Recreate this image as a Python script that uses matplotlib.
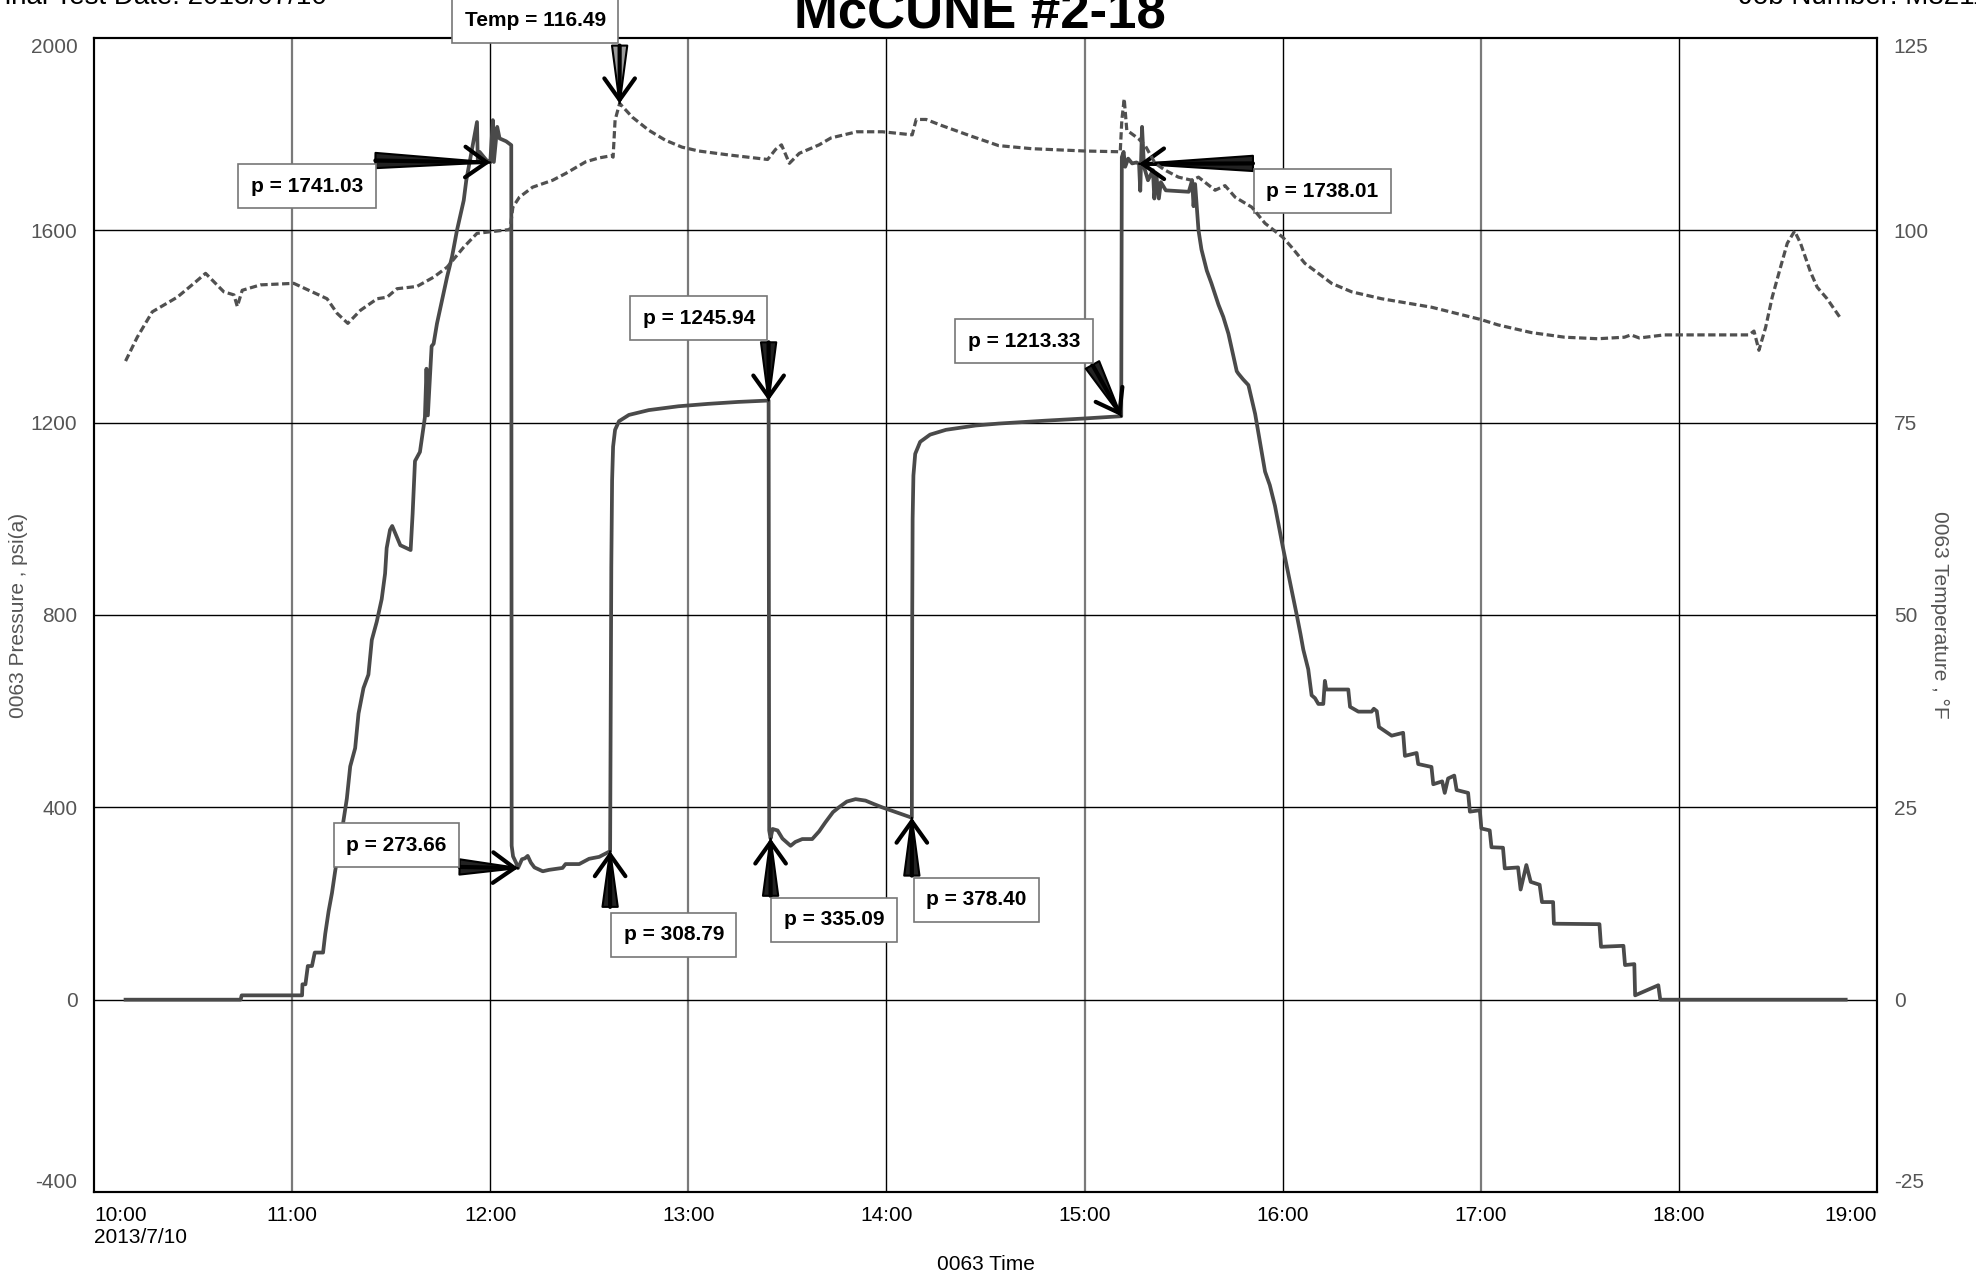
import matplotlib
matplotlib.use("Agg")
import matplotlib.pyplot as plt

plt.rcParams['font.family'] = ['Liberation Sans', 'DejaVu Sans']

# --- data (time in decimal hours of 2013/7/10) ---
pressure_hours = [
    10.159, 10.740, 10.745, 11.050, 11.052, 11.067, 11.079, 11.100, 11.114, 11.156,
    11.167, 11.184, 11.201, 11.218, 11.235, 11.260, 11.276, 11.293, 11.318, 11.335,
    11.360, 11.385, 11.402, 11.427, 11.452, 11.469, 11.477, 11.494, 11.505, 11.546,
    11.598, 11.608, 11.620, 11.645, 11.670, 11.678, 11.685, 11.704, 11.714, 11.731,
    11.756, 11.782, 11.807, 11.832, 11.866, 11.879, 11.913, 11.933, 11.937, 11.946,
    11.980, 12.000, 12.013, 12.018, 12.035, 12.047, 12.080, 12.106, 12.108, 12.115,
    12.130, 12.140, 12.160, 12.175, 12.189, 12.205, 12.223, 12.265, 12.297, 12.365,
    12.380, 12.449, 12.499, 12.550, 12.605, 12.608, 12.611, 12.615, 12.620, 12.630,
    12.650, 12.700, 12.800, 12.950, 13.100, 13.250, 13.405, 13.408, 13.415, 13.425,
    13.450, 13.475, 13.516, 13.540, 13.575, 13.625, 13.660, 13.692, 13.730, 13.760,
    13.800, 13.844, 13.894, 13.935, 13.978, 14.020, 14.062, 14.128, 14.130, 14.132,
    14.136, 14.145, 14.170, 14.220, 14.300, 14.450, 14.566, 14.800, 15.000, 15.185,
    15.188, 15.197, 15.205, 15.220, 15.240, 15.262, 15.275, 15.281, 15.290, 15.300,
    15.320, 15.345, 15.352, 15.362, 15.375, 15.385, 15.410, 15.526, 15.543, 15.550,
    15.558, 15.575, 15.590, 15.617, 15.640, 15.676, 15.700, 15.726, 15.768, 15.776,
    15.800, 15.827, 15.861, 15.885, 15.911, 15.935, 15.961, 16.000, 16.029, 16.050,
    16.071, 16.090, 16.104, 16.129, 16.146, 16.163, 16.180, 16.205, 16.213, 16.220,
    16.331, 16.340, 16.382, 16.449, 16.460, 16.475, 16.486, 16.550, 16.608, 16.617,
    16.676, 16.684, 16.751, 16.760, 16.805, 16.818, 16.835, 16.866, 16.878, 16.936,
    16.945, 16.995, 17.003, 17.045, 17.054, 17.112, 17.121, 17.188, 17.201, 17.230,
    17.252, 17.297, 17.309, 17.365, 17.369, 17.599, 17.607, 17.720, 17.728, 17.775,
    17.779, 17.896, 17.906, 18.842,
]
pressure_psi = [
    0, 0, 9, 9, 32, 32, 70, 70, 98, 98,
    137, 184, 222, 270, 308, 375, 418, 485, 523, 595,
    648, 676, 748, 786, 833, 886, 939, 977, 985, 945,
    935, 1010, 1120, 1139, 1211, 1312, 1215, 1359, 1364, 1406,
    1454, 1503, 1545, 1600, 1662, 1704, 1780, 1825, 1745, 1763,
    1746, 1741.03, 1829, 1742, 1815, 1791, 1785, 1777, 320, 298,
    285, 273.66, 292, 294, 299, 285, 275, 267, 270, 274,
    282, 282, 293, 297, 308.79, 600, 900, 1080, 1150, 1185,
    1203, 1216, 1226, 1234, 1239, 1243, 1245.94, 352, 335.09, 355,
    352, 335, 320, 328, 334, 334, 350, 369, 390, 400,
    412, 417, 414, 407, 400, 394, 388, 378.40, 800, 1000,
    1090, 1135, 1160, 1175, 1185, 1194, 1198, 1204, 1208.6, 1213.33,
    1752, 1763, 1732, 1749, 1739, 1741, 1738.01, 1682, 1815, 1732,
    1704, 1725, 1666, 1715, 1666, 1700, 1683, 1680, 1704, 1650,
    1696, 1600, 1560, 1516, 1490, 1445, 1420, 1385, 1307, 1302,
    1290, 1278, 1218, 1160, 1098, 1070, 1027, 943, 884, 842,
    800, 760, 728, 687, 633, 627, 615, 615, 663, 645,
    645, 609, 599, 599, 605, 600, 567, 549, 555, 507,
    513, 490, 484, 448, 454, 430, 460, 466, 436, 430,
    391, 394, 356, 352, 317, 316, 273, 275, 229, 280,
    245, 239, 203, 203, 158, 157, 110, 112, 72, 74,
    9, 30, 0, 0,
]

temp_hours = [
    10.159, 10.218, 10.294, 10.420, 10.504, 10.563, 10.655, 10.706, 10.723, 10.748,
    10.840, 11.008, 11.050, 11.176, 11.227, 11.281, 11.345, 11.429, 11.479, 11.529,
    11.630, 11.714, 11.782, 11.866, 11.933, 12.000, 12.100, 12.114, 12.147, 12.214,
    12.315, 12.382, 12.482, 12.549, 12.613, 12.620, 12.630, 12.653, 12.717, 12.800,
    12.884, 12.968, 13.052, 13.200, 13.400, 13.440, 13.470, 13.510, 13.560, 13.660,
    13.720, 13.850, 13.980, 14.130, 14.150, 14.200, 14.280, 14.420, 14.566, 14.734,
    15.000, 15.180, 15.188, 15.200, 15.213, 15.235, 15.272, 15.306, 15.356, 15.407,
    15.474, 15.541, 15.575, 15.659, 15.709, 15.760, 15.844, 15.911, 16.000, 16.045,
    16.112, 16.180, 16.247, 16.348, 16.499, 16.751, 17.000, 17.087, 17.255, 17.423,
    17.591, 17.725, 17.758, 17.800, 17.926, 18.178, 18.354, 18.379, 18.404, 18.438,
    18.471, 18.513, 18.547, 18.584, 18.614, 18.664, 18.698, 18.748, 18.815,
]
temp_degf = [
    83.0, 86.1, 89.4, 91.3, 93.1, 94.4, 92.0, 91.6, 90.1, 92.2,
    92.9, 93.1, 92.6, 91.1, 89.2, 87.9, 89.6, 91.1, 91.3, 92.4,
    92.7, 93.9, 95.2, 97.8, 99.6, 99.8, 100.1, 103.0, 104.3, 105.6,
    106.5, 107.4, 108.9, 109.4, 109.7, 109.5, 114.3, 116.49, 114.7, 113.0,
    111.7, 110.8, 110.3, 109.8, 109.2, 110.5, 111.1, 108.7, 110.0, 111.1,
    112.0, 112.8, 112.8, 112.4, 114.4, 114.4, 113.6, 112.3, 111.0, 110.6,
    110.3, 110.2, 114.3, 117.1, 113.0, 112.6, 111.9, 111.0, 108.7, 107.8,
    106.9, 106.5, 106.9, 105.2, 105.8, 104.3, 103.0, 100.9, 99.1, 97.8,
    95.7, 94.4, 93.1, 92.0, 91.1, 90.0, 88.4, 87.7, 86.7, 86.1,
    85.9, 86.1, 86.4, 86.0, 86.4, 86.4, 86.4, 86.9, 84.4, 87.4,
    91.3, 95.2, 98.3, 99.9, 98.3, 94.6, 92.6, 91.1, 88.6,
]

hour_ticks = [10, 11, 12, 13, 14, 15, 16, 17, 18, 19]
hour_labels = ['10:00\n2013/7/10', '11:00', '12:00', '13:00', '14:00',
               '15:00', '16:00', '17:00', '18:00', '19:00']
pressure_ticks = [-400, 0, 400, 800, 1200, 1600, 2000]
temp_ticks = [-25, 0, 25, 50, 75, 100, 125]

# point labels: (text, axis, point (x, y), box centre (x, y), arrow tail (x, y))
callouts = [
    ('p = 1741.03', 'p', (12.000, 1741.03), (11.075, 1692), (11.420, 1745)),
    ('p = 273.66', 'p', (12.140, 273.66), (11.527, 321), (11.845, 276)),
    ('p = 308.79', 'p', (12.605, 308.79), (12.926, 135), (12.605, 193)),
    ('p = 335.09', 'p', (13.415, 335.09), (13.734, 166), (13.415, 216)),
    ('p = 378.40', 'p', (14.128, 378.40), (14.453, 208), (14.128, 258)),
    ('p = 1245.94', 'p', (13.405, 1245.94), (13.053, 1417), (13.405, 1367)),
    ('p = 1213.33', 'p', (15.185, 1213.33), (14.695, 1369), (15.040, 1320)),
    ('p = 1738.01', 'p', (15.275, 1738.01), (16.200, 1681), (15.850, 1739)),
    ('Temp = 116.49', 't', (12.653, 116.49), (12.227, 127.2), (12.653, 124.0)),
]

fig = plt.figure(figsize=(19.76, 12.76), dpi=100)
ax = fig.add_axes([0.0476, 0.0658, 0.9023, 0.9045])
ax2 = ax.twinx()

ax.plot(pressure_hours, pressure_psi, color='#4a4a4a', lw=2.7, zorder=3)
ax2.plot(temp_hours, temp_degf, color='#505050', lw=2.3,
         dashes=(2.3, 1.1), zorder=3)

ax.set_xlim(10, 19)
ax.set_ylim(-400, 2000)
ax2.set_ylim(-25, 125)

ax.set_xticks(hour_ticks)
ax.set_xticklabels(hour_labels, fontsize=15, color='black')
ax.set_yticks(pressure_ticks)
ax.set_yticklabels([str(v) for v in pressure_ticks], fontsize=15, color='#555555')
ax2.set_yticks(temp_ticks)
ax2.set_yticklabels([str(v) for v in temp_ticks], fontsize=15, color='#555555')

ax.tick_params(axis='x', length=0, pad=10)
ax.tick_params(axis='y', length=0, pad=12)
ax2.tick_params(axis='y', length=0, pad=12)

xl = ax.get_xticklabels()
xl[0].set_ha('left')
xl[-1].set_ha('right')
yl = ax.get_yticklabels()
yl[0].set_va('bottom')
yl[-1].set_va('top')
yl2 = ax2.get_yticklabels()
yl2[0].set_va('bottom')
yl2[-1].set_va('top')

# grid
for h in hour_ticks[1:-1]:
    if h % 2:
        ax.axvline(h, color='#7a7a7a', lw=1.6, zorder=1)
    else:
        ax.axvline(h, color='black', lw=1.0, zorder=1)
for v in pressure_ticks[1:-1]:
    ax.axhline(v, color='black', lw=1.0, zorder=1)

for s in ax.spines.values():
    s.set_color('black')
    s.set_linewidth(1.5)
for s in ax2.spines.values():
    s.set_color('black')
    s.set_linewidth(1.5)

ax.set_ylabel('0063 Pressure , psi(a)', fontsize=15, color='#555555')
ax.yaxis.set_label_coords(-0.037, 0.5)
ax2.set_ylabel('0063 Temperature , °F', fontsize=15, color='#555555',
               rotation=270, va='center')
ax2.yaxis.set_label_coords(1.035, 0.5)
ax.set_xlabel('0063 Time', fontsize=15, color='black', labelpad=6)


def draw_arrow(target, tail, head, face):
    target.annotate('', xy=head, xytext=tail, annotation_clip=False,
                    arrowprops=dict(arrowstyle='wedge,tail_width=0.5,shrink_factor=0.5',
                                    fc=face, ec='black', lw=1.5, mutation_scale=22,
                                    shrinkA=0, shrinkB=0), zorder=6)
    target.annotate('', xy=head, xytext=tail, annotation_clip=False,
                    arrowprops=dict(arrowstyle='->,head_length=0.7,head_width=0.5',
                                    color='black', lw=3, mutation_scale=22,
                                    shrinkA=0, shrinkB=0), zorder=6)


for text, which, head, box, tail in callouts:
    target = ax if which == 'p' else ax2
    face = '#222222' if which == 'p' else '#9a9a9a'
    draw_arrow(target, tail, head, face)
    target.text(box[0], box[1], text, fontsize=15, fontweight='bold',
                ha='center', va='center', clip_on=False, zorder=7,
                bbox=dict(boxstyle='square,pad=0.6', fc='white', ec='#777777', lw=1.2))

fig.text(0.496, 0.978, 'McCUNE #2-18', fontsize=38, fontweight='bold',
         ha='center', va='baseline')
fig.text(-0.006, 0.997, 'Final Test Date: 2013/07/10', fontsize=20,
         ha='left', va='baseline')
fig.text(0.880, 0.997, 'Job Number: M8211', fontsize=20,
         ha='left', va='baseline')

fig.savefig('out.png', dpi=100)
